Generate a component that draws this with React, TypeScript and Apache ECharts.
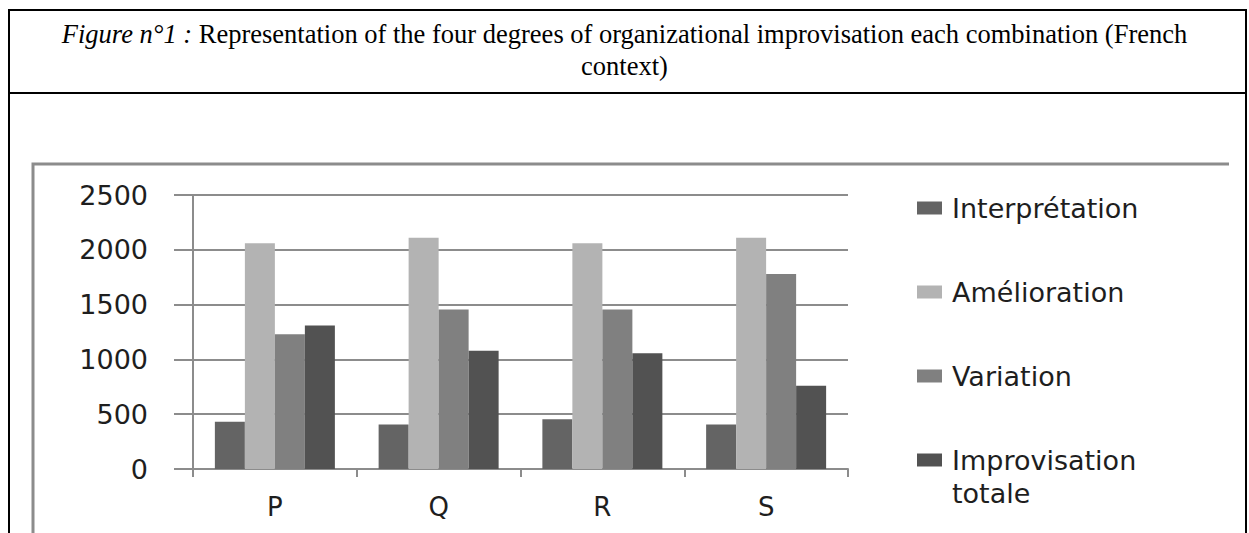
import React, { useEffect, useRef } from "react";
import * as echarts from "echarts";

const categories = ["P", "Q", "R", "S"];
const seriesNames = ["Interprétation", "Amélioration", "Variation", "Improvisation totale"];
const interpretation = [430, 405, 455, 405];
const amelioration = [2060, 2110, 2060, 2110];
const variation = [1230, 1455, 1455, 1780];
const improvisation = [1310, 1080, 1055, 760];
const yTicks = { min: 0, max: 2500, interval: 500 };

const colors = ["#646464", "#b3b3b3", "#808080", "#525252"];
const legendCenters = [208, 292, 376, 460];

export default function App() {
  const ref = useRef<HTMLDivElement>(null);
  useEffect(() => {
    if (!ref.current) return;
    const chart = echarts.init(ref.current, undefined, { renderer: "svg" });
    const values = [interpretation, amelioration, variation, improvisation];
    const sans = "DejaVu Sans";
    const legends = seriesNames.map((n, i) => {
      const last = i === 3;
      const lh = last ? 33 : 30;
      const h = last ? lh * 3 : lh;
      return {
        data: [n],
        orient: "vertical",
        left: 917,
        top: legendCenters[i] - h / 2,
        padding: 0,
        itemWidth: 25,
        itemHeight: 13,
        icon: "rect",
        selectedMode: false,
        formatter: last ? () => "\nImprovisation\ntotale" : undefined,
        textStyle: { fontSize: 27, fontFamily: sans, color: "#1e1e1e", lineHeight: lh, padding: [0, 0, 0, 5] },
      };
    });
    chart.setOption({
      animation: false,
      backgroundColor: "#ffffff",
      title: {
        text: "{i|Figure n°1 :} Representation of the four degrees of organizational improvisation each combination (French\ncontext)",
        left: "center",
        top: 18,
        padding: 0,
        textStyle: {
          fontFamily: "Liberation Serif",
          fontSize: 26.5,
          fontWeight: "normal",
          color: "#000",
          lineHeight: 32,
          rich: {
            i: { fontFamily: "Liberation Serif", fontSize: 26.5, fontStyle: "italic", color: "#000", lineHeight: 32 },
          },
        },
      },
      graphic: [
        { type: "rect", shape: { x: 9, y: 10, width: 1237, height: 83 }, style: { fill: "none", stroke: "#000", lineWidth: 2 }, silent: true },
        { type: "line", shape: { x1: 9, y1: 93, x2: 9, y2: 533 }, style: { stroke: "#000", lineWidth: 2 }, silent: true },
        { type: "line", shape: { x1: 1246, y1: 93, x2: 1246, y2: 533 }, style: { stroke: "#000", lineWidth: 2 }, silent: true },
        { type: "polyline", shape: { points: [[33, 533], [33, 164], [1229, 164]] }, style: { fill: "none", stroke: "#8c8c8c", lineWidth: 3 }, silent: true },
      ],
      legend: legends,
      grid: { left: 193, right: 401, top: 195, bottom: 64, containLabel: false },
      xAxis: {
        type: "category",
        data: categories,
        axisLine: { lineStyle: { color: "#8c8c8c", width: 2 } },
        axisTick: { show: true, length: 8, lineStyle: { color: "#8c8c8c", width: 2 } },
        axisLabel: { fontSize: 26, fontFamily: sans, color: "#1e1e1e", margin: 25 },
      },
      yAxis: {
        type: "value",
        min: yTicks.min,
        max: yTicks.max,
        interval: yTicks.interval,
        axisLine: { show: true, lineStyle: { color: "#8c8c8c", width: 2 } },
        axisTick: { show: true, length: 19, lineStyle: { color: "#8c8c8c", width: 2 } },
        splitLine: { show: true, lineStyle: { color: "#8c8c8c", width: 2 } },
        axisLabel: {
          fontSize: 27,
          fontFamily: sans,
          color: "#1e1e1e",
          margin: 45,
          formatter: (v: number) => String(v),
        },
      },
      series: seriesNames.map((n, i) => ({
        name: n,
        type: "bar",
        data: values[i],
        barWidth: 30,
        barGap: "0%",
        itemStyle: { color: colors[i] },
      })),
    });
    return () => chart.dispose();
  }, []);
  return (
    <div
      ref={ref}
      style={{ position: "fixed", left: 0, top: 0, width: 1249, height: 533 }}
    />
  );
}
